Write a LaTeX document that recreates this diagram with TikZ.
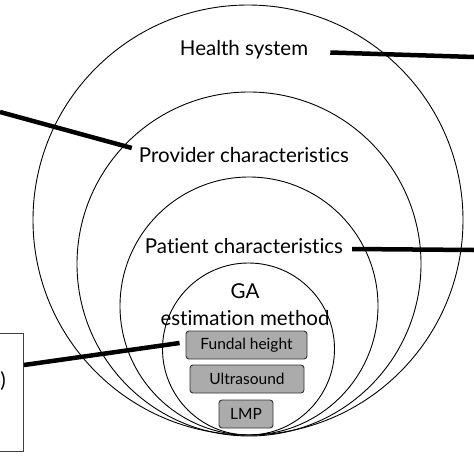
\documentclass[tikz,border=0pt]{standalone}
\usepackage{fontspec}
\setmainfont{Lato}[Ligatures=NoCommon]
\usetikzlibrary{calc}
\begin{document}
\begin{tikzpicture}[x=1pt,y=-1pt,
  ring/.style={draw=black,line width=0.9pt},
  label/.style={font=\fontsize{20.5}{27}\selectfont,inner sep=0pt},
  method/.style={draw=black!80,fill=black!33,rounded corners=3pt,line width=0.9pt,font=\fontsize{15.5}{18}\selectfont,inner sep=0pt},
  link/.style={line width=4.5pt,black}]
\useasboundingbox (0,0) rectangle (474,474);
\draw[ring] (248,220) circle (215);
\draw[ring] (249,264) circle (172);
\draw[ring] (249,306) circle (129);
\draw[ring] (248.5,349) circle (86);
\node[label] (hs) at (244,50) {Health system};
\node[label] (prov) at (244,155) {Provider characteristics};
\node[label] (pat) at (244,246) {Patient characteristics};
\node[label,align=center] (ga) at (245,305) {GA\\estimation method};
\node[method,minimum width=121pt,minimum height=28pt] (fh) at (246.5,345) {Fundal height};
\node[method,minimum width=114pt,minimum height=28pt] (us) at (247,379) {Ultrasound};
\node[method,minimum width=54pt,minimum height=28pt] (lmp) at (246,414) {LMP};
\node[draw=black!75,line width=0.9pt,minimum width=40pt,minimum height=118pt,anchor=east,inner sep=0pt] (lbox) at (24,392) {};
\node[label,anchor=east] (paren) at (6,381) {)};
\coordinate (hsR) at (474,57);
\coordinate (provL) at (0,112);
\coordinate (patR) at (474,250);
\draw[link] ($(hs.east)+(22,2.5)$) -- (hsR);
\draw[link] (provL) -- ($(prov.west)+(-7,-7)$);
\draw[link] ($(pat.east)+(9,3)$) -- (patR);
\draw[link] (lbox.east |- 0,365) -- ($(fh.west)+(-6,-2)$);
\end{tikzpicture}
\end{document}
